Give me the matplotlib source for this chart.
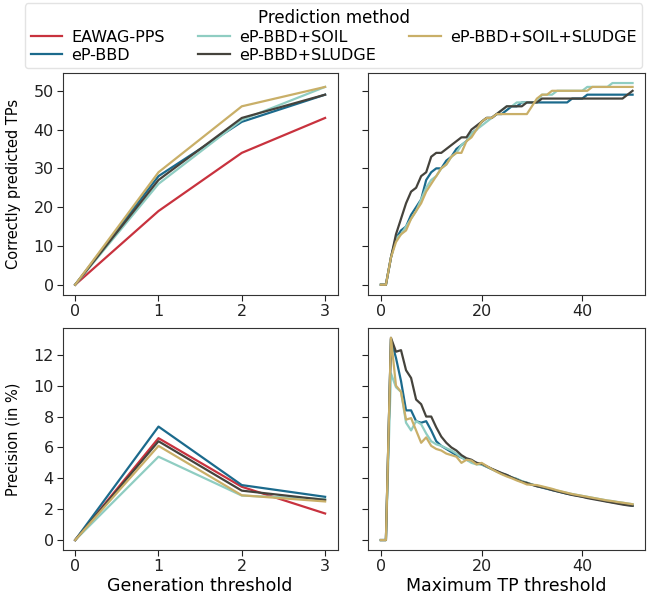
import numpy as np
import matplotlib
matplotlib.use("Agg")
import matplotlib.pyplot as plt

methods = ["EAWAG-PPS", "eP-BBD", "eP-BBD+SOIL", "eP-BBD+SLUDGE", "eP-BBD+SOIL+SLUDGE"]
colors = {
    "EAWAG-PPS": "#c8323e",
    "eP-BBD": "#1b6a8c",
    "eP-BBD+SOIL": "#8fcdc2",
    "eP-BBD+SLUDGE": "#45433c",
    "eP-BBD+SOIL+SLUDGE": "#c9af68",
}

# generation threshold panels
gen = [0, 1, 2, 3]
gen_counts = {
    "EAWAG-PPS": [0, 19, 34, 43],
    "eP-BBD": [0, 28, 42, 49],
    "eP-BBD+SOIL": [0, 26, 42.5, 51],
    "eP-BBD+SLUDGE": [0, 27, 43, 49],
    "eP-BBD+SOIL+SLUDGE": [0, 29, 46, 51],
}
gen_precision = {
    "EAWAG-PPS": [0, 6.6, 3.45, 1.72],
    "eP-BBD": [0, 7.35, 3.56, 2.8],
    "eP-BBD+SOIL": [0, 5.4, 2.88, 2.65],
    "eP-BBD+SLUDGE": [0, 6.4, 3.2, 2.6],
    "eP-BBD+SOIL+SLUDGE": [0, 6.1, 2.9, 2.5],
}

# maximum TP threshold panels (0..50)
tp_thr = list(range(51))
tp_counts = {
    "eP-BBD": [0, 0, 7, 12, 14, 15, 18, 20, 22, 27, 29, 30, 30, 32, 33, 35, 36, 37, 39, 40,
               42, 43, 43, 44, 44, 45, 46, 46, 47, 47, 47, 47, 47, 47, 47, 47, 47, 47, 48, 48,
               48, 49, 49, 49, 49, 49, 49, 49, 49, 49, 49],
    "eP-BBD+SOIL": [0, 0, 7, 12, 13, 15, 17, 19, 22, 25, 27, 28, 30, 31, 33, 34, 36, 37, 39, 40,
                    41, 42, 43, 44, 45, 46, 46, 47, 47, 47, 47, 47, 49, 49, 49, 50, 50, 50, 50, 50,
                    50, 51, 51, 51, 51, 51, 52, 52, 52, 52, 52],
    "eP-BBD+SLUDGE": [0, 0, 7, 13, 17, 21, 24, 25, 28, 29, 33, 34, 34, 35, 36, 37, 38, 38, 40, 41,
                      42, 43, 43, 44, 45, 46, 46, 46, 46, 47, 47, 47, 48, 48, 48, 48, 48, 48, 48, 48,
                      48, 48, 48, 48, 48, 48, 48, 48, 48, 49, 50],
    "eP-BBD+SOIL+SLUDGE": [0, 0, 7, 11, 13, 14, 17, 19, 21, 24, 26, 28, 30, 31, 33, 34, 34, 37, 38, 40,
                           42, 43, 43, 44, 44, 44, 44, 44, 44, 44, 46, 48, 49, 49, 50, 50, 50, 50, 50, 50,
                           50, 50, 51, 51, 51, 51, 51, 51, 51, 51, 51],
}
tp_precision = {
    "eP-BBD": [0, 0, 13.0, 11.8, 10.3, 8.4, 8.4, 7.7, 7.6, 7.7, 7.1, 6.4, 6.1, 5.9, 5.7, 5.5, 5.35,
               5.2, 5.1, 5.0, 4.9, 4.75, 4.6, 4.45, 4.3, 4.2, 4.05, 3.95, 3.8, 3.7, 3.6, 3.5, 3.4,
               3.32, 3.24, 3.16, 3.08, 3.0, 2.94, 2.88, 2.82, 2.75, 2.7, 2.64, 2.58, 2.5, 2.45, 2.4,
               2.34, 2.28, 2.22],
    "eP-BBD+SOIL": [0, 0, 10.8, 9.9, 9.6, 7.6, 7.1, 7.7, 7.5, 6.9, 6.4, 6.2, 6.1, 5.95, 5.8, 5.6,
                    5.35, 5.2, 5.0, 4.9, 4.9, 4.75, 4.6, 4.45, 4.32, 4.2, 4.06, 3.96, 3.82, 3.72, 3.6,
                    3.5, 3.44, 3.36, 3.28, 3.2, 3.12, 3.05, 2.98, 2.92, 2.86, 2.8, 2.74, 2.68, 2.62,
                    2.56, 2.52, 2.47, 2.42, 2.37, 2.32],
    "eP-BBD+SLUDGE": [0, 0, 13.1, 12.2, 12.3, 11.0, 10.5, 9.1, 8.8, 8.0, 8.0, 7.3, 6.7, 6.3, 6.0,
                      5.8, 5.5, 5.3, 5.2, 5.0, 4.95, 4.78, 4.62, 4.48, 4.34, 4.22, 4.06, 3.92, 3.78,
                      3.7, 3.58, 3.48, 3.42, 3.34, 3.24, 3.16, 3.08, 3.0, 2.92, 2.86, 2.8, 2.72, 2.66,
                      2.6, 2.54, 2.48, 2.42, 2.36, 2.3, 2.25, 2.22],
    "eP-BBD+SOIL+SLUDGE": [0, 0, 13.1, 10.0, 9.6, 7.8, 7.9, 7.1, 6.3, 6.65, 6.1, 5.9, 5.8, 5.6, 5.5,
                           5.4, 5.0, 5.2, 5.15, 4.9, 5.0, 4.8, 4.6, 4.42, 4.26, 4.12, 4.0, 3.86, 3.74,
                           3.6, 3.58, 3.56, 3.48, 3.4, 3.32, 3.22, 3.14, 3.06, 2.98, 2.92, 2.86, 2.8,
                           2.74, 2.68, 2.62, 2.56, 2.52, 2.46, 2.42, 2.37, 2.32],
}

plt.rcParams["font.family"] = "DejaVu Sans"
plt.rcParams["axes.edgecolor"] = "#333333"
plt.rcParams["xtick.color"] = "#222222"
plt.rcParams["ytick.color"] = "#222222"

fig = plt.figure(figsize=(6.53, 5.98), dpi=100)
ax_tl = fig.add_axes([0.096, 0.507, 0.421, 0.371])
ax_tr = fig.add_axes([0.564, 0.507, 0.424, 0.371], sharey=ax_tl)
ax_bl = fig.add_axes([0.096, 0.080, 0.421, 0.372])
ax_br = fig.add_axes([0.564, 0.080, 0.424, 0.372], sharey=ax_bl)

lw = 1.6
for m in methods:
    ax_tl.plot(gen, gen_counts[m], color=colors[m], lw=lw, label=m)
    ax_bl.plot(gen, gen_precision[m], color=colors[m], lw=lw)
    if m in tp_counts:
        ax_tr.plot(tp_thr, tp_counts[m], color=colors[m], lw=lw)
        ax_br.plot(tp_thr, tp_precision[m], color=colors[m], lw=lw)

for ax in (ax_tl, ax_bl):
    ax.set_xticks(gen)
for ax in (ax_tr, ax_br):
    ax.set_xticks([0, 20, 40])
    ax.tick_params(labelleft=False)
ax_tl.set_yticks([0, 10, 20, 30, 40, 50])
ax_bl.set_yticks([0, 2, 4, 6, 8, 10, 12])

for ax in (ax_tl, ax_tr, ax_bl, ax_br):
    ax.tick_params(labelsize=11.5, length=4, pad=2.5)

ax_tl.set_ylabel("Correctly predicted TPs", fontsize=10.5)
ax_bl.set_ylabel("Precision (in %)", fontsize=10.5)
ax_tl.yaxis.set_label_coords(-0.153, 0.5)
ax_bl.yaxis.set_label_coords(-0.153, 0.5)
ax_bl.set_xlabel("Generation threshold", fontsize=12.5, labelpad=2)
ax_br.set_xlabel("Maximum TP threshold", fontsize=12.5, labelpad=2)

handles, labels = ax_tl.get_legend_handles_labels()
fig.legend(handles, labels, title="Prediction method", loc="upper center",
           bbox_to_anchor=(0.511, 0.997), ncol=3, fontsize=11.5, title_fontsize=12,
           columnspacing=2.1, handlelength=2.0, handletextpad=0.55, labelspacing=0.18,
           borderpad=0.35, borderaxespad=0.1, frameon=True, edgecolor="#dddddd")

fig.savefig("out.png", dpi=100)
